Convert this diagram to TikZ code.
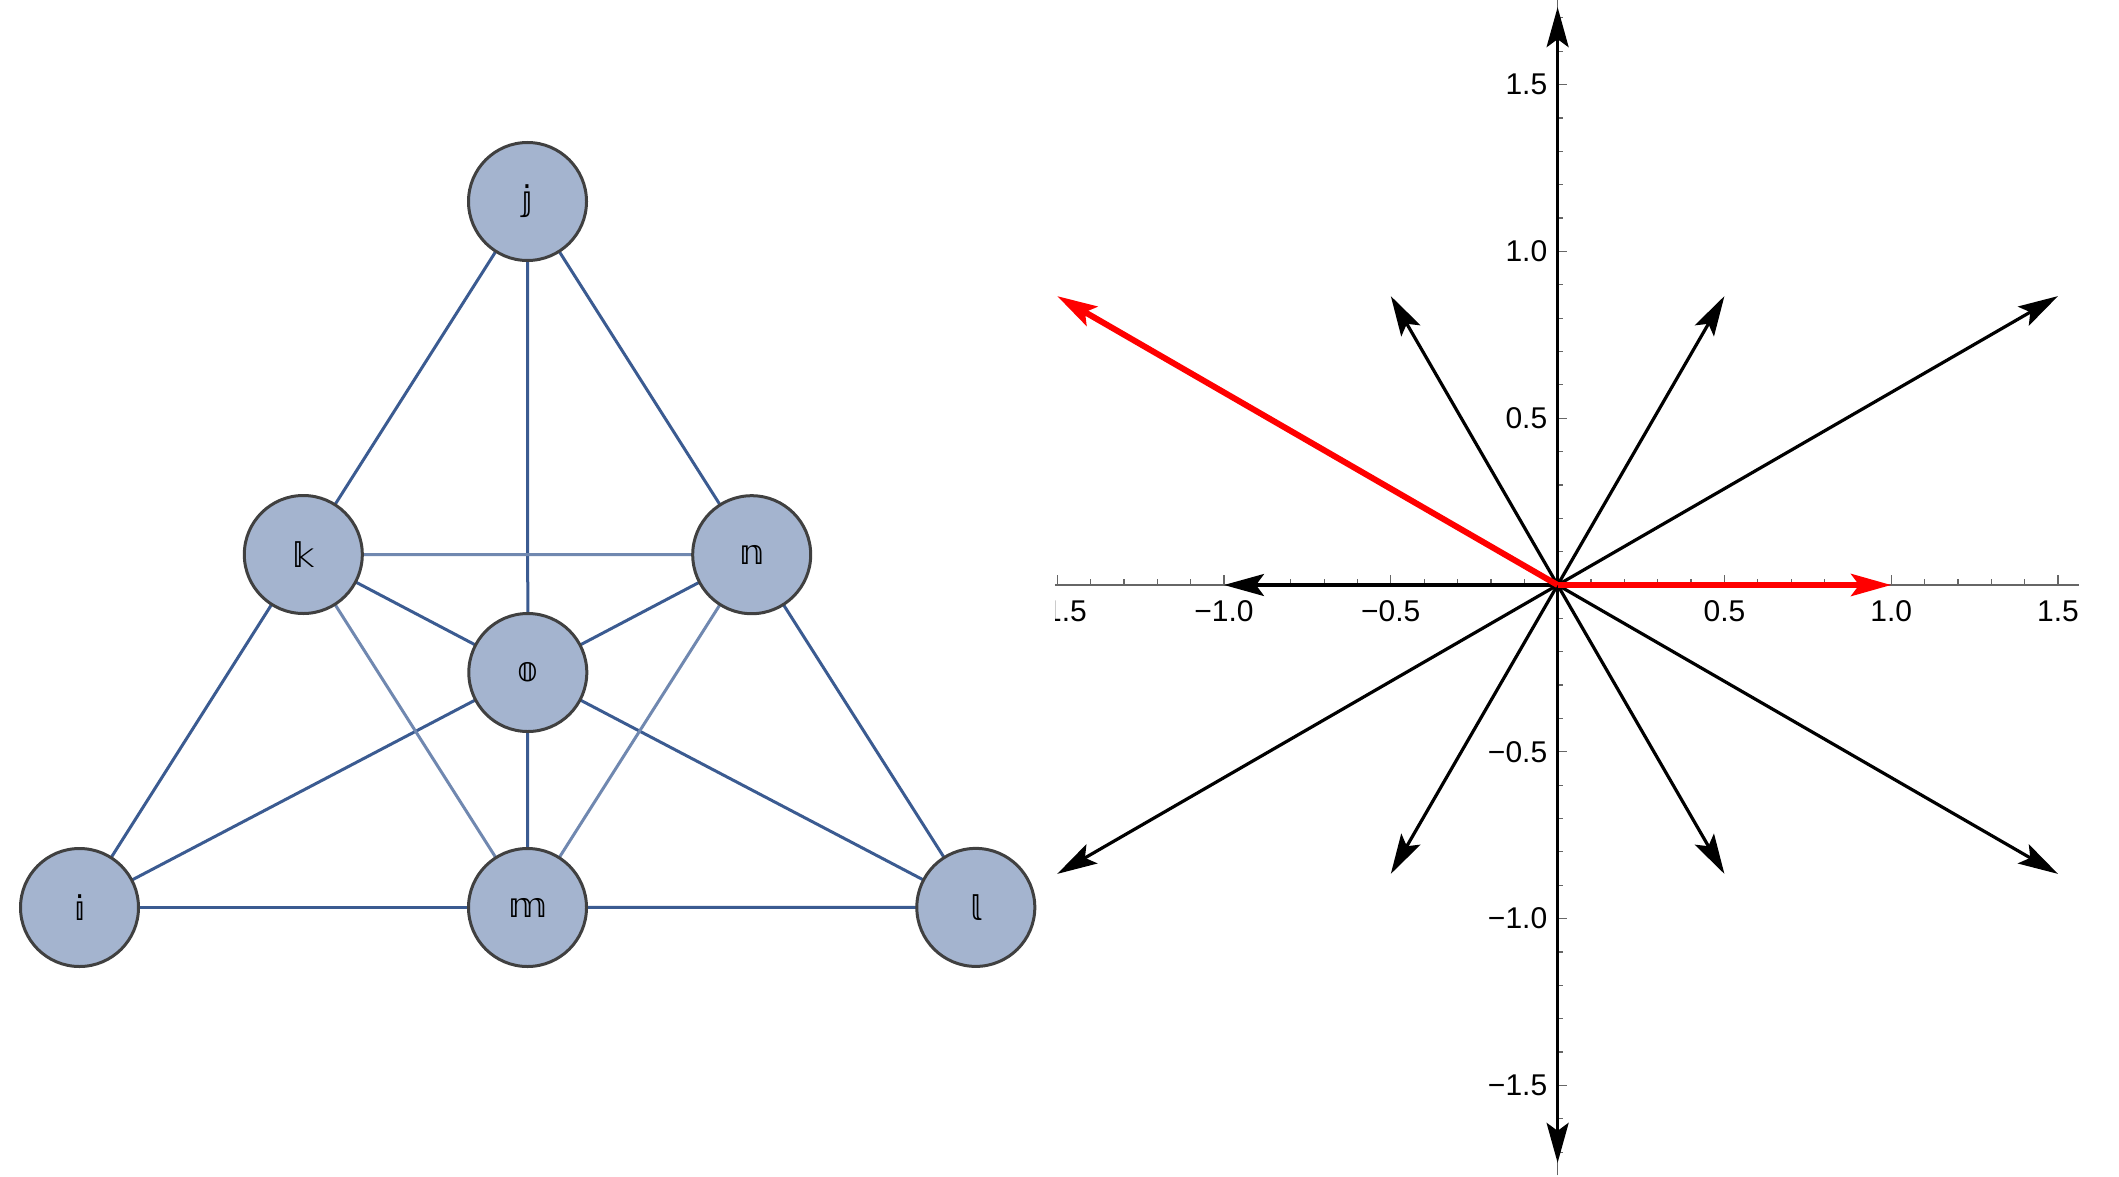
\documentclass[tikz,border=0pt]{standalone}
\usepackage{fontspec}
\setmainfont{Liberation Sans}
\newfontfamily\dsfont{DejaVu Sans}
\usetikzlibrary{arrows.meta}
\definecolor{edgedark}{RGB}{59,91,145}
\definecolor{edgelight}{RGB}{112,136,176}
\definecolor{nodefill}{RGB}{164,180,207}
\definecolor{nodeline}{RGB}{64,64,64}
\definecolor{axisgray}{RGB}{102,102,102}
\begin{document}
\begin{tikzpicture}[x=0.5pt,y=-0.5pt,
  vtx/.style={circle,draw=nodeline,line width=1.5pt,fill=nodefill,minimum size=59pt,inner sep=0pt,
    font=\dsfont\fontsize{17pt}{20pt}\selectfont},
  edark/.style={draw=edgedark,line width=1.5pt},
  elight/.style={draw=edgelight,line width=1.5pt},
  axisline/.style={draw=axisgray,line width=0.6pt},
  ticklbl/.style={inner sep=0pt,font=\fontsize{15pt}{18pt}\selectfont},
  vec/.style={draw=black,line width=1.6pt,-{Stealth[length=20pt,width=11pt,inset=4pt]}},
  redvec/.style={draw=red,line width=3pt,-{Stealth[length=20pt,width=11pt,inset=4pt]}}]
\useasboundingbox (0,0) rectangle (2119,1177);
% ---------- graph ----------
\coordinate (pj) at (527.5,201.5);
\coordinate (pk) at (303.3,554.5);
\coordinate (pn) at (751.7,554.7);
\coordinate (po) at (527.8,672.5);
\coordinate (pi) at (79.5,907.5);
\coordinate (pm) at (527.5,907.5);
\coordinate (pl) at (975.8,907.4);
\draw[edark] (pj) -- (pk);
\draw[edark] (pj) -- (pn);
\draw[edark] (pj) -- (po);
\draw[edark] (pk) -- (po);
\draw[edark] (pn) -- (po);
\draw[edark] (pk) -- (pi);
\draw[edark] (pn) -- (pl);
\draw[edark] (po) -- (pi);
\draw[edark] (po) -- (pm);
\draw[edark] (po) -- (pl);
\draw[edark] (pi) -- (pm);
\draw[edark] (pm) -- (pl);
\draw[elight] (pk) -- (pn);
\draw[elight] (pk) -- (pm);
\draw[elight] (pn) -- (pm);
\node[vtx] (j) at (pj) {𝕛};
\node[vtx] (k) at (pk) {𝕜};
\node[vtx] (n) at (pn) {𝕟};
\node[vtx] (o) at (po) {𝕠};
\node[vtx] (i) at (pi) {𝕚};
\node[vtx] (m) at (pm) {𝕞};
\node[vtx] (l) at (pl) {𝕝};
% ---------- root plot ----------
\begin{scope}[shift={(1557.6,585)},x={(166.8pt,0pt)},y={(0pt,166.8pt)}]
  \coordinate (O) at (0,0);
  \coordinate (xl) at (-1.507,0);
  \coordinate (xr) at (1.564,0);
  \coordinate (yt) at (0,1.754);
  \coordinate (yb) at (0,-1.77);
  \draw[axisline] (xl) -- (xr);
  \draw[axisline] (yb) -- (yt);
  \foreach \t in {-15,...,15}{
    \pgfmathtruncatemacro{\r}{mod(abs(\t),5)}
    \ifnum\r=0
      \draw[axisline] (\t/10,0) -- ++(0pt,5pt);
    \else
      \draw[axisline] (\t/10,0) -- ++(0pt,3pt);
    \fi
  }
  \foreach \t in {-17,...,17}{
    \pgfmathtruncatemacro{\r}{mod(abs(\t),5)}
    \ifnum\r=0
      \draw[axisline] (0,\t/10) -- ++(4.5pt,0pt);
    \else
      \draw[axisline] (0,\t/10) -- ++(2.5pt,0pt);
    \fi
  }
  \begin{scope}
    \clip (-1.506,-0.5) rectangle (-1.3,0);
    \node[ticklbl,below=7.5pt] (xm15) at (-1.5,0) {−1.5};
  \end{scope}
  \node[ticklbl,below=7.5pt] (xm10) at (-1,0) {−1.0};
  \node[ticklbl,below=7.5pt] (xm05) at (-0.5,0) {−0.5};
  \node[ticklbl,below=7.5pt] (xp05) at (0.5,0) {0.5};
  \node[ticklbl,below=7.5pt] (xp10) at (1,0) {1.0};
  \node[ticklbl,below=7.5pt] (xp15) at (1.5,0) {1.5};
  \node[ticklbl,left=5pt] (yp15) at (0,1.5) {1.5};
  \node[ticklbl,left=5pt] (yp10) at (0,1) {1.0};
  \node[ticklbl,left=5pt] (yp05) at (0,0.5) {0.5};
  \node[ticklbl,left=5pt] (ym05) at (0,-0.5) {−0.5};
  \node[ticklbl,left=5pt] (ym10) at (0,-1) {−1.0};
  \node[ticklbl,left=5pt] (ym15) at (0,-1.5) {−1.5};
  % roots
  \coordinate (r1) at (-1,0);
  \coordinate (r2) at (0.5,0.8660);
  \coordinate (r3) at (-0.5,0.8660);
  \coordinate (r4) at (0.5,-0.8660);
  \coordinate (r5) at (-0.5,-0.8660);
  \coordinate (r6) at (1.5,0.8660);
  \coordinate (r7) at (1.5,-0.8660);
  \coordinate (r8) at (-1.5,-0.8660);
  \coordinate (r9) at (0,1.7321);
  \coordinate (r10) at (0,-1.7321);
  \coordinate (a1) at (1,0);
  \coordinate (a2) at (-1.5,0.8660);
  \foreach \p in {r1,r2,r3,r4,r5,r6,r7,r8,r9,r10}{
    \draw[vec] (O) -- (\p);
  }
  \draw[redvec] (O) -- (a1);
  \draw[redvec] (O) -- (a2);
\end{scope}
\end{tikzpicture}
\end{document}
